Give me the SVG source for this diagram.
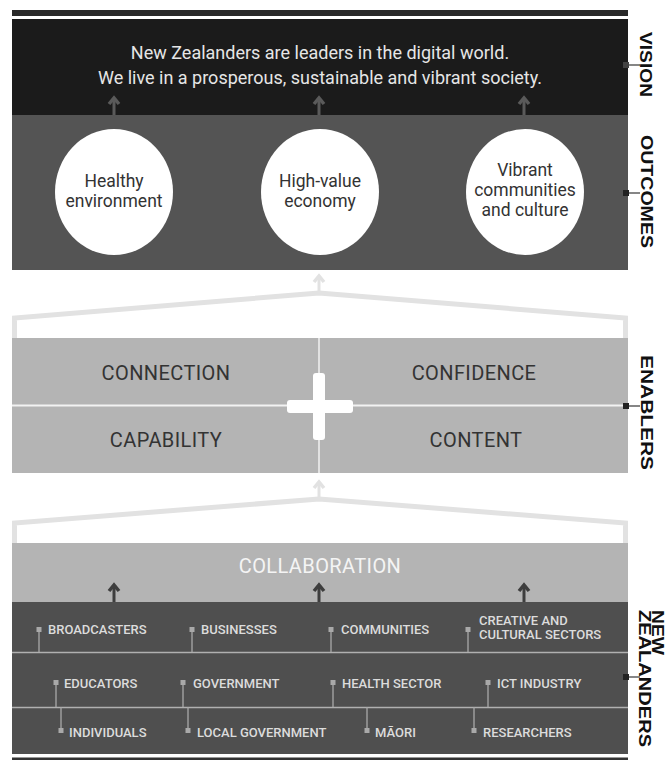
<svg xmlns="http://www.w3.org/2000/svg" width="668" height="760" viewBox="0 0 668 760">
<style>
.f{font-family:Roboto,"Liberation Sans",sans-serif}
.vis{font-size:18px;fill:#e6e6e6;text-anchor:middle}
.circ{font-size:17.5px;fill:#333;text-anchor:middle}
.en{font-size:20px;fill:#333;text-anchor:middle;letter-spacing:0.4px}
.col{font-size:20px;fill:#f4f4f4;text-anchor:middle;letter-spacing:0.4px}
.it{font-size:13px;fill:#dcdcdc;font-weight:500}
.side{font-family:"Liberation Sans",Arial,sans-serif;font-weight:bold;font-size:17px;fill:#111}
.mk{fill:#a9a9a9}
.cl{stroke:#a9a9a9;stroke-width:1.3;fill:none}
.roof{fill:none;stroke:#e2e2e2;stroke-width:5;stroke-linejoin:miter}
.sc{stroke:#444;stroke-width:1.3}
</style>
<defs>
<g id="arr"><path d="M0,0 V-17" stroke-width="3" fill="none"/><path d="M-5,-11 L0,-17 L5,-11" stroke-width="3.5" fill="none" stroke-linejoin="miter"/></g>
</defs>

<!-- top band -->
<rect x="12" y="10" width="616" height="6" fill="#2a2a2a"/>

<g id="vision">
<rect x="12" y="19" width="616" height="96" fill="#1b1b1b"/>
<text class="f vis" x="320" y="59">New Zealanders are leaders in the digital world.</text>
<text class="f vis" x="320" y="84">We live in a prosperous, sustainable and vibrant society.</text>
</g>

<g id="outcomes">
<rect x="12" y="115" width="616" height="155" fill="#545454"/>
<ellipse cx="114" cy="192" rx="59" ry="63" fill="#fff"/>
<text class="f circ" x="114" y="187">Healthy</text>
<text class="f circ" x="114" y="207">environment</text>
<ellipse cx="320" cy="192" rx="59" ry="63" fill="#fff"/>
<text class="f circ" x="320" y="187">High-value</text>
<text class="f circ" x="320" y="207">economy</text>
<ellipse cx="525" cy="192" rx="59" ry="63" fill="#fff"/>
<text class="f circ" x="525" y="176">Vibrant</text>
<text class="f circ" x="525" y="196">communities</text>
<text class="f circ" x="525" y="216">and culture</text>
</g>

<g id="enablers">
<rect x="12" y="338" width="616" height="135" fill="#b4b4b4"/>
<line x1="12" y1="405.5" x2="628" y2="405.5" stroke="#f2f2f2" stroke-width="2"/>
<line x1="319" y1="338" x2="319" y2="473" stroke="#f2f2f2" stroke-width="1.5"/>
<rect x="313" y="373" width="12" height="67" rx="3" fill="#fff"/>
<rect x="287" y="400" width="66" height="13" rx="3" fill="#fff"/>
<text class="f en" x="166" y="380">CONNECTION</text>
<text class="f en" x="474" y="380">CONFIDENCE</text>
<text class="f en" x="166" y="447">CAPABILITY</text>
<text class="f en" x="476" y="447">CONTENT</text>
</g>

<g id="collaboration">
<rect x="12" y="543" width="616" height="59" fill="#b4b4b4"/>
<text class="f col" x="320" y="573">COLLABORATION</text>
</g>

<g id="new-zealanders">
<rect x="12" y="602" width="616" height="152" fill="#4f4f4f"/>
<line x1="12" y1="652.5" x2="628" y2="652.5" stroke="#b0b0b0" stroke-width="1.5"/>
<line x1="12" y1="707.5" x2="628" y2="707.5" stroke="#b0b0b0" stroke-width="1.5"/>
<!-- row 1 -->
<rect class="mk" x="36.5" y="627" width="5" height="5"/><line class="cl" x1="39" y1="632" x2="39" y2="652"/>
<text class="f it" x="48" y="634">BROADCASTERS</text>
<rect class="mk" x="189.5" y="627" width="5" height="5"/><line class="cl" x1="192" y1="632" x2="192" y2="652"/>
<text class="f it" x="201" y="634">BUSINESSES</text>
<rect class="mk" x="328.5" y="627" width="5" height="5"/><line class="cl" x1="331" y1="632" x2="331" y2="652"/>
<text class="f it" x="341" y="634">COMMUNITIES</text>
<rect class="mk" x="465.5" y="627" width="5" height="5"/><line class="cl" x1="468" y1="632" x2="468" y2="652"/>
<text class="f it" x="479" y="625">CREATIVE AND</text>
<text class="f it" x="479" y="639">CULTURAL SECTORS</text>
<!-- row 2 -->
<rect class="mk" x="53.5" y="680" width="5" height="5"/><line class="cl" x1="56" y1="685" x2="56" y2="707"/>
<text class="f it" x="64" y="688">EDUCATORS</text>
<rect class="mk" x="180.5" y="680" width="5" height="5"/><line class="cl" x1="183" y1="685" x2="183" y2="707"/>
<text class="f it" x="193" y="688">GOVERNMENT</text>
<rect class="mk" x="330.5" y="680" width="5" height="5"/><line class="cl" x1="333" y1="685" x2="333" y2="707"/>
<text class="f it" x="342" y="688">HEALTH SECTOR</text>
<rect class="mk" x="485.5" y="680" width="5" height="5"/><line class="cl" x1="488" y1="685" x2="488" y2="707"/>
<text class="f it" x="497" y="688">ICT INDUSTRY</text>
<!-- row 3 -->
<rect class="mk" x="58.5" y="728" width="5" height="5"/><line class="cl" x1="61" y1="707" x2="61" y2="728"/>
<text class="f it" x="69" y="737">INDIVIDUALS</text>
<rect class="mk" x="185.5" y="728" width="5" height="5"/><line class="cl" x1="188" y1="707" x2="188" y2="728"/>
<text class="f it" x="197" y="737">LOCAL GOVERNMENT</text>
<rect class="mk" x="364.5" y="728" width="5" height="5"/><line class="cl" x1="367" y1="707" x2="367" y2="728"/>
<text class="f it" x="375" y="737">MĀORI</text>
<rect class="mk" x="471.5" y="728" width="5" height="5"/><line class="cl" x1="474" y1="707" x2="474" y2="728"/>
<text class="f it" x="483" y="737">RESEARCHERS</text>
</g>

<!-- bottom band -->
<rect x="12" y="757.5" width="616" height="2.5" fill="#333"/>

<g id="connectors">
<g stroke="#5a5a5a"><use href="#arr" x="114" y="115"/><use href="#arr" x="319" y="115"/><use href="#arr" x="524" y="115"/></g>
<g stroke="#3e3e3e"><use href="#arr" x="114" y="602"/><use href="#arr" x="319" y="602"/><use href="#arr" x="524" y="602"/></g>
<polyline class="roof" points="14.5,338 14.5,318 319,293 625.5,318 625.5,338"/>
<g stroke="#e2e2e2"><use href="#arr" x="319" y="293"/></g>
<polyline class="roof" points="14.5,543 14.5,523 319,499 625.5,523 625.5,543"/>
<g stroke="#e2e2e2"><use href="#arr" x="319" y="499"/></g>
</g>

<g id="side-labels">
<line class="sc" x1="626" y1="65" x2="640" y2="65"/><rect x="623" y="62" width="6" height="6" fill="#444"/>
<text class="side" transform="translate(640,32) rotate(90)" textLength="65" lengthAdjust="spacingAndGlyphs">VISION</text>
<line class="sc" x1="626" y1="193" x2="640" y2="193"/><rect x="623" y="190" width="6" height="6" fill="#222"/>
<text class="side" transform="translate(641,135) rotate(90)" textLength="113" lengthAdjust="spacingAndGlyphs">OUTCOMES</text>
<line class="sc" x1="626" y1="406" x2="640" y2="406"/><rect x="623" y="403" width="6" height="6" fill="#222"/>
<text class="side" transform="translate(641,355) rotate(90)" textLength="115" lengthAdjust="spacingAndGlyphs">ENABLERS</text>
<line class="sc" x1="626" y1="677" x2="640" y2="677"/><rect x="623" y="674" width="6" height="6" fill="#222"/>
<text class="side" transform="translate(652,610) rotate(90)" textLength="45" lengthAdjust="spacingAndGlyphs">NEW</text>
<text class="side" transform="translate(639,610) rotate(90)" textLength="137" lengthAdjust="spacingAndGlyphs">ZEALANDERS</text>
</g>
</svg>
